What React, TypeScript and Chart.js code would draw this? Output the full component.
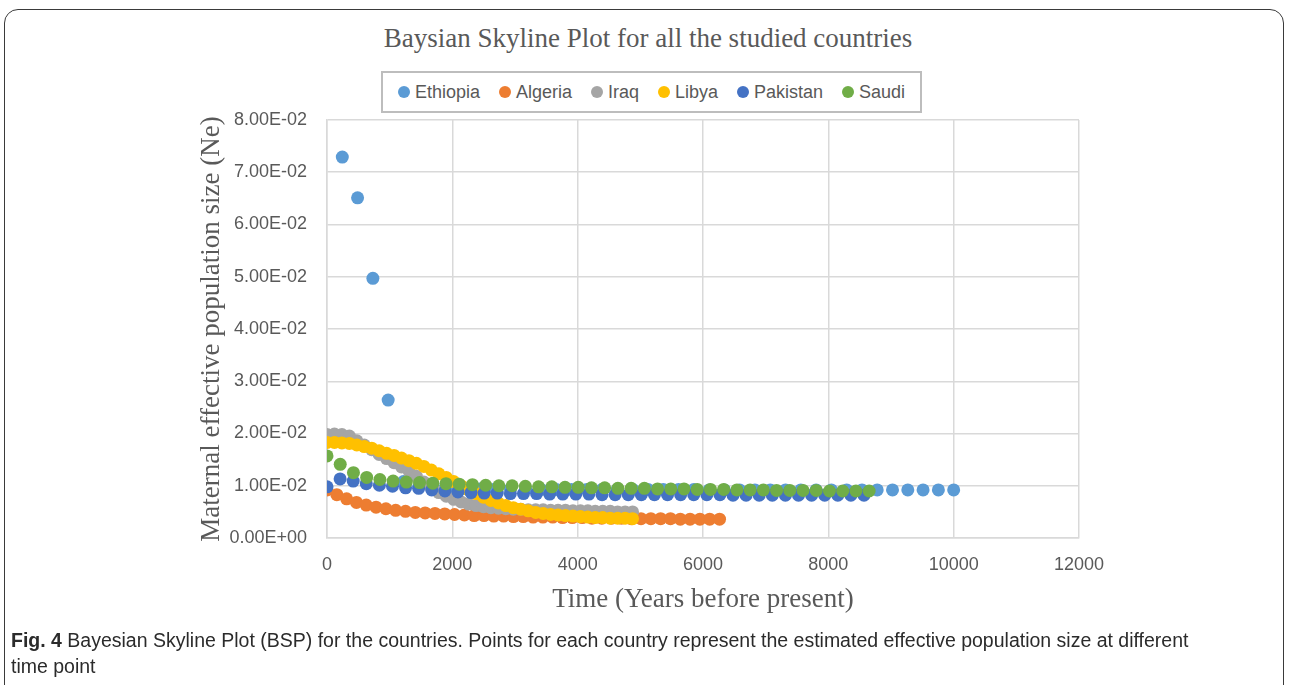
import React, { useEffect, useRef } from "react";
import { Chart, registerables } from "chart.js";

Chart.register(...registerables);

const TITLE = "Baysian Skyline Plot for all the studied countries";
const X_TITLE = "Time (Years before present)";
const Y_TITLE = "Maternal effective population size (Ne)";

const seriesNames = ["Ethiopia", "Algeria", "Iraq", "Libya", "Pakistan", "Saudi"];
const seriesColors = ["#5B9BD5", "#ED7D31", "#A5A5A5", "#FFC000", "#4472C4", "#70AD47"];

const ethiopiaTime = [244, 488, 732, 976, 1220, 1463, 1707, 1951, 2195, 2439, 2683, 2927, 3171, 3415, 3659, 3902, 4146, 4390, 4634, 4878, 5122, 5366, 5610, 5854, 6098, 6341, 6585, 6829, 7073, 7317, 7561, 7805, 8049, 8293, 8537, 8780, 9024, 9268, 9512, 9756, 10000];
const ethiopiaNe = [0.0729, 0.0651, 0.0497, 0.0264, 0.0108, 0.0098, 0.0096, 0.0095, 0.0095, 0.0094, 0.0094, 0.0094, 0.0094, 0.0093, 0.0093, 0.0093, 0.0093, 0.0093, 0.0093, 0.0093, 0.0093, 0.0093, 0.0093, 0.0093, 0.0092, 0.0092, 0.0092, 0.0092, 0.0092, 0.0092, 0.0092, 0.0092, 0.0092, 0.0092, 0.0092, 0.0092, 0.0092, 0.0092, 0.0092, 0.0092, 0.0092];

const algeriaTime = [0, 157, 313, 470, 626, 783, 940, 1096, 1253, 1409, 1566, 1723, 1879, 2036, 2192, 2349, 2506, 2662, 2819, 2975, 3132, 3289, 3445, 3602, 3758, 3915, 4072, 4228, 4385, 4541, 4698, 4855, 5011, 5168, 5324, 5481, 5638, 5794, 5951, 6107, 6264];
const algeriaNe = [0.0092, 0.0083, 0.0075, 0.0068, 0.0063, 0.0059, 0.0056, 0.0053, 0.0051, 0.0049, 0.0048, 0.0047, 0.0046, 0.0045, 0.0044, 0.0043, 0.0043, 0.0042, 0.0042, 0.0041, 0.0041, 0.0040, 0.0040, 0.0040, 0.0039, 0.0039, 0.0039, 0.0038, 0.0038, 0.0038, 0.0038, 0.0037, 0.0037, 0.0037, 0.0037, 0.0037, 0.0036, 0.0036, 0.0036, 0.0036, 0.0036];

const iraqLibyaTime = [0, 119, 238, 357, 476, 595, 714, 832, 951, 1070, 1189, 1308, 1427, 1546, 1665, 1784, 1903, 2022, 2141, 2260, 2379, 2497, 2616, 2735, 2854, 2973, 3092, 3211, 3330, 3449, 3568, 3687, 3806, 3925, 4044, 4162, 4281, 4400, 4519, 4638, 4757, 4876];
const iraqNe = [0.0198, 0.0199, 0.0198, 0.0195, 0.0186, 0.0178, 0.0169, 0.0160, 0.0152, 0.0144, 0.0136, 0.0128, 0.0118, 0.0107, 0.0096, 0.0087, 0.0080, 0.0074, 0.0069, 0.0065, 0.0062, 0.0060, 0.0058, 0.0057, 0.0056, 0.0055, 0.0055, 0.0054, 0.0054, 0.0054, 0.0053, 0.0053, 0.0053, 0.0052, 0.0052, 0.0052, 0.0051, 0.0051, 0.0051, 0.0050, 0.0050, 0.0050];
const libyaNe = [0.0183, 0.0183, 0.0182, 0.0181, 0.0178, 0.0175, 0.0172, 0.0167, 0.0162, 0.0158, 0.0153, 0.0148, 0.0143, 0.0137, 0.0130, 0.0123, 0.0116, 0.0108, 0.0100, 0.0092, 0.0085, 0.0078, 0.0072, 0.0067, 0.0062, 0.0058, 0.0055, 0.0052, 0.0049, 0.0047, 0.0045, 0.0044, 0.0043, 0.0042, 0.0041, 0.0040, 0.0039, 0.0039, 0.0038, 0.0038, 0.0038, 0.0037];

const pakistanTime = [0, 209, 418, 627, 836, 1045, 1254, 1463, 1672, 1881, 2090, 2299, 2508, 2717, 2926, 3135, 3344, 3553, 3762, 3971, 4180, 4389, 4598, 4807, 5016, 5225, 5434, 5643, 5852, 6061, 6270, 6479, 6688, 6897, 7106, 7315, 7524, 7733, 7942, 8151, 8360, 8569];
const pakistanNe = [0.0098, 0.0113, 0.0109, 0.0104, 0.0101, 0.0099, 0.0096, 0.0095, 0.0092, 0.0090, 0.0088, 0.0087, 0.0086, 0.0086, 0.0085, 0.0085, 0.0085, 0.0084, 0.0084, 0.0084, 0.0084, 0.0083, 0.0083, 0.0083, 0.0083, 0.0083, 0.0083, 0.0083, 0.0083, 0.0083, 0.0083, 0.0082, 0.0082, 0.0082, 0.0082, 0.0082, 0.0082, 0.0082, 0.0082, 0.0082, 0.0082, 0.0082];

const saudiTime = [0, 211, 422, 633, 844, 1055, 1266, 1477, 1688, 1899, 2110, 2321, 2532, 2743, 2954, 3165, 3376, 3587, 3798, 4009, 4220, 4431, 4642, 4853, 5064, 5275, 5486, 5697, 5908, 6119, 6330, 6541, 6752, 6963, 7174, 7385, 7596, 7807, 8018, 8229, 8440, 8651];
const saudiNe = [0.0157, 0.0141, 0.0125, 0.0116, 0.0112, 0.0109, 0.0107, 0.0106, 0.0105, 0.0104, 0.0103, 0.0102, 0.0101, 0.0100, 0.0100, 0.0099, 0.0098, 0.0098, 0.0097, 0.0097, 0.0096, 0.0096, 0.0095, 0.0095, 0.0095, 0.0094, 0.0094, 0.0094, 0.0093, 0.0093, 0.0093, 0.0092, 0.0092, 0.0092, 0.0091, 0.0091, 0.0091, 0.0091, 0.0090, 0.0090, 0.0090, 0.0090];

const seriesTimes = [ethiopiaTime, algeriaTime, iraqLibyaTime, iraqLibyaTime, pakistanTime, saudiTime];
const seriesValues = [ethiopiaNe, algeriaNe, iraqNe, libyaNe, pakistanNe, saudiNe];

const X_MIN = 0, X_MAX = 12000, X_STEP = 2000;
const Y_MIN = 0, Y_MAX = 0.08, Y_STEP = 0.01;

function sci(v: number): string {
  if (Math.abs(v) < 1e-12) return "0.00E+00";
  let e = Math.floor(Math.log10(Math.abs(v)) + 1e-9);
  let ms = (v / Math.pow(10, e)).toFixed(2);
  if (ms === "10.00") { e += 1; ms = "1.00"; }
  const sign = e < 0 ? "-" : "+";
  const ea = Math.abs(e);
  return ms + "E" + sign + (ea < 10 ? "0" + ea : String(ea));
}

const SANS = "'Liberation Sans', Arial, sans-serif";
const SERIF = "'Liberation Serif', 'Times New Roman', serif";

export default function App() {
  const ref = useRef<HTMLCanvasElement | null>(null);
  useEffect(() => {
    if (!ref.current) return;
    const n = seriesNames.length;
    const datasets = seriesNames.map((name, i) => ({
      label: name,
      data: seriesTimes[i].map((t, j) => ({ x: t, y: seriesValues[i][j] })),
      backgroundColor: seriesColors[i],
      borderColor: seriesColors[i],
      borderWidth: 0,
      pointRadius: 6.5,
      pointHoverRadius: 6.5,
      showLine: false,
      order: n - 1 - i,
    }));
    const chart = new Chart(ref.current, {
      type: "scatter",
      data: { datasets },
      options: {
        responsive: false,
        animation: false,
        devicePixelRatio: 1,
        layout: { padding: { left: 180, top: 120, right: 211, bottom: 10 } },
        plugins: { legend: { display: false }, title: { display: false }, tooltip: { enabled: false } },
        scales: {
          x: {
            type: "linear",
            min: X_MIN,
            max: X_MAX,
            ticks: { stepSize: X_STEP, padding: 16, color: "#595959", font: { family: SANS, size: 18 }, callback: (v: any) => String(Math.round(Number(v))) },
            grid: { color: "#d9d9d9", lineWidth: 1.5, drawTicks: false },
            border: { color: "#d9d9d9", width: 1.5 },
            title: { display: true, text: X_TITLE, color: "#595959", font: { family: SERIF, size: 27 }, padding: { top: 0, bottom: 4 } },
            afterFit: (s: any) => { s.height = 82; },
          },
          y: {
            type: "linear",
            min: Y_MIN,
            max: Y_MAX,
            ticks: { stepSize: Y_STEP, padding: 20, color: "#595959", font: { family: SANS, size: 18 }, callback: (v: any) => sci(Number(v)) },
            grid: { color: "#d9d9d9", lineWidth: 1.5, drawTicks: false },
            border: { color: "#d9d9d9", width: 1.5 },
            title: { display: true, text: Y_TITLE, color: "#595959", font: { family: SERIF, size: 27 }, padding: { top: 16, bottom: 0 } },
            afterFit: (s: any) => { s.width = 147; },
          },
        },
      },
    });
    return () => chart.destroy();
  }, []);

  return (
    <div style={{ position: "fixed", left: 0, top: 0, width: 1290, height: 685, background: "#fff", overflow: "hidden" }}>
      <div style={{ position: "absolute", left: 4, top: 9, width: 1280, height: 760, border: "1.5px solid #3a3a3a", borderRadius: 14, boxSizing: "border-box" }} />
      <div style={{ position: "absolute", left: 3, top: 22, width: 1290, textAlign: "center", fontFamily: SERIF, fontSize: 27, lineHeight: "32px", color: "#595959" }}>{TITLE}</div>
      <div style={{ position: "absolute", left: 381, top: 71, width: 541, height: 42, boxSizing: "border-box", border: "2px solid #bdbdbd", display: "flex", alignItems: "center", justifyContent: "center", gap: 19, fontFamily: SANS, fontSize: 18, color: "#595959" }}>
        {seriesNames.map((nm, i) => (
          <div key={nm} style={{ display: "flex", alignItems: "center" }}>
            <span style={{ width: 12, height: 12, borderRadius: 6, background: seriesColors[i], marginRight: 5, display: "inline-block" }} />
            <span>{nm}</span>
          </div>
        ))}
      </div>
      <canvas ref={ref} width={1290} height={630} style={{ position: "absolute", left: 0, top: 0, width: 1290, height: 630 }} />
      <div style={{ position: "absolute", left: 11, top: 627, width: 1195, fontFamily: SANS, fontSize: 19.5, lineHeight: "26px", color: "#2b2b2b" }}>
        <b>Fig. 4</b> Bayesian Skyline Plot (BSP) for the countries. Points for each country represent the estimated effective population size at different time point
      </div>
    </div>
  );
}
